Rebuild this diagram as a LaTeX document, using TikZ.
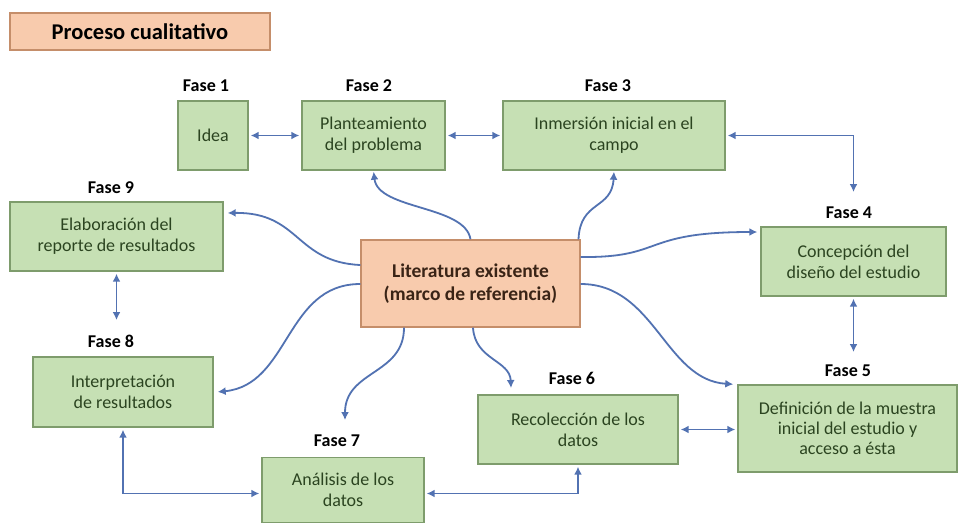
\documentclass[tikz,border=0pt]{standalone}
\usepackage{fontspec}
\setmainfont{Carlito}
\usetikzlibrary{arrows.meta,calc}
\definecolor{gfill}{HTML}{C6E0B4}
\definecolor{gdraw}{HTML}{7E9C6C}
\definecolor{gtext}{HTML}{2B4420}
\definecolor{ofill}{HTML}{F8CBAD}
\definecolor{odraw}{HTML}{C58E6A}
\definecolor{otext}{HTML}{3A2416}
\definecolor{ac}{HTML}{5272B2}
\begin{document}
\begin{tikzpicture}[x=1pt,y=-1pt,
  gbox/.style={draw=gdraw,fill=gfill,line width=1.4pt,inner sep=0pt,align=center,text=gtext,font=\fontsize{18}{21}\selectfont},
  obox/.style={draw=odraw,fill=ofill,line width=1.4pt,inner sep=0pt,align=center,text=otext},
  phase/.style={inner sep=0pt,font=\bfseries\fontsize{18}{20}\selectfont},
  conn/.style={draw=ac,line width=1.8pt,{Latex[length=8pt,width=8pt]}-{Latex[length=8pt,width=8pt]},shorten <=2pt,shorten >=2pt},
  curv/.style={draw=ac,line width=1.8pt,-{Latex[length=8pt,width=8pt]},shorten >=1pt}]
\fill[white] (0,0) rectangle (959,523);
\useasboundingbox (0,0) rectangle (959,523);

% title
\node[obox,minimum width=260pt,minimum height=37pt,font=\bfseries\fontsize{22.5}{25}\selectfont,text=black] (title) at (140,31.5) {Proceso cualitativo};

% boxes
\node[gbox,minimum width=70pt,minimum height=69pt] (f1) at (213,135.5) {Idea};
\node[gbox,minimum width=143pt,minimum height=69pt] (f2) at (373.5,135.5) {Planteamiento\\del problema};
\node[gbox,minimum width=222pt,minimum height=69pt] (f3) at (614,135.5) {Inmersión inicial en el\\campo};
\node[gbox,minimum width=213pt,minimum height=69pt] (f9) at (116.5,236.5) {Elaboración del\\reporte de resultados};
\node[gbox,minimum width=185pt,minimum height=69pt] (f4) at (853.5,261.5) {Concepción del\\diseño del estudio};
\node[obox,minimum width=219pt,minimum height=87pt,font=\bfseries\fontsize{19.5}{23}\selectfont] (lit) at (470.5,283.5) {Literatura existente\\(marco de referencia)};
\node[gbox,minimum width=180pt,minimum height=70pt] (f8) at (123,392) {Interpretación\\de resultados};
\node[gbox,minimum width=162pt,minimum height=65pt] (f7) at (343,490) {Análisis de los\\datos};
\node[gbox,minimum width=200pt,minimum height=69pt] (f6) at (578,429.5) {Recolección de los\\datos};
\node[gbox,minimum width=219pt,minimum height=87pt,font=\fontsize{18}{20}\selectfont] (f5) at (847.5,428.5) {Definición de la muestra\\inicial del estudio y\\acceso a ésta};

% phase labels
\node[phase] (l1) at (206,86) {Fase 1};
\node[phase] (l2) at (369,86) {Fase 2};
\node[phase] (l3) at (608,86) {Fase 3};
\node[phase] (l9) at (111,188) {Fase 9};
\node[phase] (l4) at (849,213) {Fase 4};
\node[phase] (l8) at (111,341) {Fase 8};
\node[phase] (l7) at (337,441) {Fase 7};
\node[phase] (l6) at (572,378) {Fase 6};
\node[phase] (l5) at (848,371) {Fase 5};

% free ends
\coordinate (c34) at (853.5,192);
\coordinate (c98) at (116.5,320);
\coordinate (c45) at (853.5,352);
\coordinate (c7) at (345,420);
\coordinate (c6) at (511,388);

% straight connectors
\draw[conn] (f1) -- (f2);
\draw[conn] (f2) -- (f3);
\draw[conn,shorten >=0pt] (f3.east) -| (c34);
\draw[conn,shorten >=0pt] (f9.south) -- (c98);
\draw[conn,shorten >=0pt] (f4.south) -- (c45);
\draw[conn] (f6.east) -- (f6.east -| f5.west);
\draw[conn] (f8.south) |- ([yshift=-3.5pt]f7.west);
\draw[conn] ([yshift=-3.5pt]f7.east) -| (f6.south);

% curved connectors from literature
\draw[curv] (lit.north) .. controls (465,205) and (378,210) .. (f2.south);
\draw[curv] ([xshift=108pt]lit.north) .. controls (580,200) and (612,210) .. (f3.south);
\draw[curv] ([yshift=18.5pt]lit.west) .. controls (295,262) and (300,212) .. ([yshift=23.5pt,xshift=3pt]f9.east);
\draw[curv] ([yshift=26.5pt]lit.east) .. controls (665,258) and (640,232) .. ([yshift=29.5pt,xshift=-2pt]f4.west);
\draw[curv] ([yshift=-0.5pt]lit.west) .. controls (285,284) and (290,385) .. ([xshift=3pt]f8.east);
\draw[curv,shorten >=0pt] ([xshift=-66.5pt]lit.south) .. controls (404,375) and (345,370) .. (c7);
\draw[curv,shorten >=0pt] ([xshift=2.5pt]lit.south) .. controls (475,360) and (510,360) .. (c6);
\draw[curv] ([yshift=-0.5pt]lit.east) .. controls (655,284) and (665,380) .. ([xshift=-3pt]f5.north west);
\end{tikzpicture}
\end{document}
